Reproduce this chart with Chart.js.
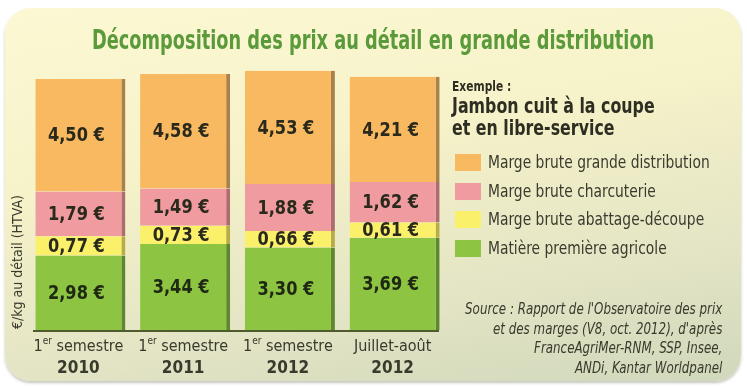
<!DOCTYPE html>
<html lang="fr">
<head>
<meta charset="utf-8">
<script src="https://cdn.jsdelivr.net/npm/chart.js@4.4.1/dist/chart.umd.min.js"></script>
<style>
  html, body { margin: 0; padding: 0; background: #ffffff; }
  #wrap { position: relative; width: 747px; height: 387px; overflow: hidden;
          font-family: "Liberation Sans Narrow", "DejaVu Sans Condensed", "Liberation Sans", sans-serif; }
  #panel { position: absolute; left: 5px; top: 8px; width: 736px; height: 373px; border-radius: 26px;
           background: linear-gradient(170deg, #fcf8d3 0%, #f6f2c9 38%, #e4e5c5 72%, #d0d8bb 100%);
           box-shadow: 0 2px 3px rgba(90,90,70,0.35); }
  #chart { position: absolute; left: 0; top: 0; }
  .title { position: absolute; left: 0; width: 747px; top: 25px; text-align: center;
           font-weight: bold; font-size: 26px; color: #5b9a3b; transform: scaleX(0.76); transform-origin: 372px 0; }
  .ytitle { position: absolute; left: 17px; top: 262px; transform: translate(-50%, -50%) rotate(-90deg);
            white-space: nowrap; font-size: 14px; color: #3a3a2c; }
  .ex1 { position: absolute; left: 452px; top: 78px; font-weight: bold; font-size: 14px; color: #2d2d22;
         transform: scaleX(0.85); transform-origin: 0 0; }
  .ex2 { position: absolute; left: 452px; top: 95px; font-weight: bold; font-size: 22px; line-height: 22px; color: #2d2d22;
         white-space: nowrap; transform: scaleX(0.8); transform-origin: 0 0; }
  #legend { position: absolute; left: 455px; top: 154px; }
  .item { height: 28.5px; display: flex; align-items: flex-start; }
  .sw { width: 26px; height: 17px; margin-right: 7px; flex: none; }
  .lab { font-size: 17.5px; line-height: 17px; color: #3a3a2e; white-space: nowrap;
         transform: scaleX(0.88); transform-origin: 0 0; }
  .source { position: absolute; right: 25px; top: 300px; text-align: right; font-style: italic;
            font-size: 15px; line-height: 19.5px; color: #3a3a2c; white-space: nowrap;
            transform: scaleX(0.88); transform-origin: 100% 0; }
</style>
</head>
<body>
<div id="wrap">
  <div id="panel"></div>
  <canvas id="chart" width="747" height="387"></canvas>
  <div class="title">Décomposition des prix au détail en grande distribution</div>
  <div class="ytitle">€/kg au détail (HTVA)</div>
  <div class="ex1">Exemple :</div>
  <div class="ex2">Jambon cuit à la coupe<br>et en libre-service</div>
  <div id="legend"></div>
  <div class="source">Source : Rapport de l'Observatoire des prix<br>et des marges (V8, oct. 2012), d'après<br>FranceAgriMer-RNM, SSP, Insee,<br>ANDi, Kantar Worldpanel</div>
</div>
<script>
// Data
const periods = ["1er semestre", "1er semestre", "1er semestre", "Juillet-août"];
const years = ["2010", "2011", "2012", "2012"];

const matiere = [2.98, 3.44, 3.30, 3.69];
const abattage = [0.77, 0.73, 0.66, 0.61];
const charcuterie = [1.79, 1.49, 1.88, 1.62];
const distribution = [4.50, 4.58, 4.53, 4.21];

const seriesNames = ["Matière première agricole", "Marge brute abattage-découpe", "Marge brute charcuterie", "Marge brute grande distribution"];
const fills = ["#8dc543", "#fbf06a", "#f09ba0", "#f8b960"];
const shades = ["#5f8630", "#b7ac45", "#ad6d70", "#a9814a"];
const series = [matiere, abattage, charcuterie, distribution];

// Legend (top to bottom is reversed stack order)
const legend = document.getElementById("legend");
for (let i = series.length - 1; i >= 0; i--) {
  const row = document.createElement("div");
  row.className = "item";
  row.innerHTML = '<div class="sw" style="background:' + fills[i] + '"></div><div class="lab">' + seriesNames[i] + '</div>';
  legend.appendChild(row);
}

const fontName = '"Liberation Sans Narrow", "DejaVu Sans Condensed", sans-serif';

// Value labels, baseline and category labels
const decorations = {
  id: "decorations",
  afterDatasetsDraw(chart) {
    const ctx = chart.ctx;
    const area = chart.chartArea;
    const xs = chart.scales.x;
    ctx.save();
    // baseline
    ctx.strokeStyle = "#4e5b2c";
    ctx.lineWidth = 2;
    ctx.beginPath();
    ctx.moveTo(xs.left + 5, area.bottom + 1);
    ctx.lineTo(xs.right - 8, area.bottom + 1);
    ctx.stroke();

    // values
    ctx.font = "bold 20px " + fontName;
    ctx.textAlign = "center";
    ctx.textBaseline = "middle";
    chart.data.datasets.forEach((ds, di) => {
      const meta = chart.getDatasetMeta(di);
      meta.data.forEach((bar, i) => {
        const v = ds.data[i];
        const txt = v.toFixed(2).replace(".", ",") + " €";
        ctx.fillStyle = di === 0 ? "#1e2812" : "#2a2a1c";
        ctx.save();
        ctx.translate(bar.x - 4, (bar.y + bar.base) / 2 + 1);
        ctx.scale(0.9, 1);
        ctx.fillText(txt, 0, 0);
        ctx.restore();
      });
    });

    // category labels
    ctx.fillStyle = "#3a3a2c";
    periods.forEach((p, i) => {
      const cx = xs.getPixelForValue(i) - 2;
      const m = p.match(/^(\d)(er)(.*)$/);
      ctx.textBaseline = "alphabetic";
      if (m) {
        ctx.font = "16px " + fontName;
        const w1 = ctx.measureText(m[1]).width;
        const w3 = ctx.measureText(m[3]).width;
        ctx.font = "10px " + fontName;
        const w2 = ctx.measureText(m[2]).width;
        let x = cx - (w1 + w2 + w3) / 2;
        ctx.textAlign = "left";
        ctx.font = "16px " + fontName;
        ctx.fillText(m[1], x, area.bottom + 21);
        ctx.font = "10px " + fontName;
        ctx.fillText(m[2], x + w1, area.bottom + 14);
        ctx.font = "16px " + fontName;
        ctx.fillText(m[3], x + w1 + w2, area.bottom + 21);
      } else {
        ctx.textAlign = "center";
        ctx.font = "16px " + fontName;
        ctx.fillText(p, cx, area.bottom + 21);
      }
      ctx.textAlign = "center";
      ctx.font = "bold 17px " + fontName;
      ctx.fillText(years[i], cx, area.bottom + 43);
    });
    ctx.restore();
  }
};

new Chart(document.getElementById("chart"), {
  type: "bar",
  data: {
    labels: years,
    datasets: series.map((d, i) => ({
      label: seriesNames[i],
      data: d,
      backgroundColor: fills[i],
      borderColor: shades[i],
      borderWidth: { top: 0, left: 0, bottom: 0, right: 4 },
      borderSkipped: false,
      barPercentage: 0.86,
      categoryPercentage: 1
    }))
  },
  options: {
    responsive: false,
    animation: false,
    layout: { padding: { left: 28, right: 300, top: 67.5, bottom: 57 } },
    plugins: { legend: { display: false }, tooltip: { enabled: false } },
    scales: {
      x: { stacked: true, display: false },
      y: { stacked: true, display: false, min: 0, max: 10.5 }
    }
  },
  plugins: [decorations]
});
</script>
</body>
</html>
